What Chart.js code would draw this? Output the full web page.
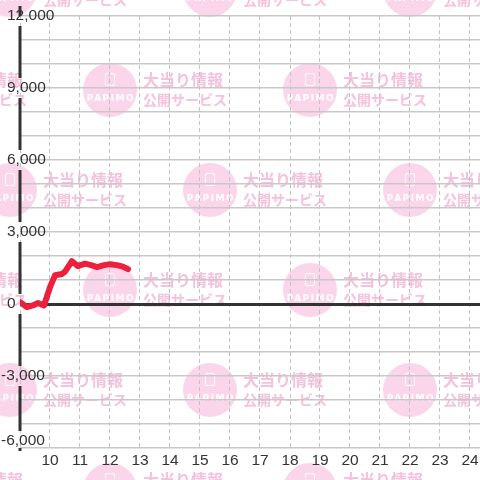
<!DOCTYPE html>
<html>
<head>
<meta charset="utf-8">
<script src="https://cdn.jsdelivr.net/npm/chart.js@4.4.0/dist/chart.umd.min.js"></script>
<style>
  body { margin: 0; background: #fff; }
  #chart { display: block; }
</style>
</head>
<body>
<canvas id="chart" width="480" height="480"></canvas>
<script>
// hours of the day (x) and running balance (y)
let hours = [9.0, 9.23, 9.43, 9.6, 9.8, 10.0, 10.17, 10.4, 10.5, 10.73, 10.93, 11.17, 11.37, 11.57, 11.8, 12.0, 12.23, 12.43, 12.6];
let balance = [80, -125, -60, 40, -60, 700, 1200, 1250, 1350, 1780, 1580, 1680, 1620, 1540, 1620, 1660, 1620, 1560, 1450];

let yLabels = [12000, 9000, 6000, 3000, 0, -3000, -6000];
let xLabels = [10, 11, 12, 13, 14, 15, 16, 17, 18, 19, 20, 21, 22, 23, 24];

let labelFont = "15.5px 'Liberation Sans', Arial, sans-serif";

// pink "PAPIMO" stamps tiled behind the chart
function drawStamp(ctx, cx, cy) {
  ctx.fillStyle = "#fbd6ea";
  ctx.beginPath();
  ctx.arc(cx, cy, 27, 0, Math.PI * 2);
  ctx.fill();

  // little phone icon
  ctx.strokeStyle = "#fff";
  ctx.lineWidth = 1;
  ctx.beginPath();
  ctx.roundRect(cx - 4.5, cy - 16.5, 9, 12, 1.5);
  ctx.stroke();

  ctx.fillStyle = "#fff";
  ctx.font = "bold 9px 'DejaVu Sans', sans-serif";
  ctx.textAlign = "center";
  ctx.textBaseline = "middle";
  ctx.letterSpacing = "1.5px";
  ctx.fillText("PAPIMO", cx + 1, cy + 9);
  ctx.letterSpacing = "0px";

  ctx.fillStyle = "#f4c2dd";
  ctx.textAlign = "left";
  ctx.font = "bold 16px 'Noto Sans CJK JP', sans-serif";
  ctx.fillText("大当り情報", cx + 33, cy - 10);
  ctx.font = "bold 14px 'Noto Sans CJK JP', sans-serif";
  ctx.fillText("公開サービス", cx + 33, cy + 10);
}

const backgroundPlugin = {
  id: "stamps",
  beforeDraw(chart) {
    let ctx = chart.ctx;
    ctx.save();
    ctx.fillStyle = "#fff";
    ctx.fillRect(0, 0, chart.width, chart.height);
    for (let m = 0; m < 6; m++) {
      for (let k = -1; k < 6; k++) {
        if ((k + m) % 2 !== 0) continue;
        drawStamp(ctx, 10 + 100 * k, -10 + 100 * m);
      }
    }
    ctx.restore();
  },
};

// y axis line with gaps for the labels, plus tick labels
const axisPlugin = {
  id: "axisLabels",
  beforeDatasetsDraw(chart) {
    let ctx = chart.ctx;
    let area = chart.chartArea;
    let y = chart.scales.y;
    let x = chart.scales.x;
    ctx.save();

    let labelPos = yLabels.map((v) => Math.min(y.getPixelForValue(v), area.bottom - 7));
    let stops = [area.top];
    labelPos.forEach((p) => {
      stops.push(p - 10);
      stops.push(p + 10);
    });
    stops.push(area.bottom);
    stops.sort((a, b) => a - b);
    ctx.strokeStyle = "#333";
    ctx.lineWidth = 3;
    ctx.beginPath();
    for (let i = 0; i < stops.length; i += 2) {
      if (stops[i + 1] > stops[i]) {
        ctx.moveTo(area.left, stops[i]);
        ctx.lineTo(area.left, stops[i + 1]);
      }
    }
    ctx.stroke();

    ctx.fillStyle = "#333";
    ctx.font = labelFont;
    ctx.textBaseline = "middle";
    ctx.textAlign = "left";
    yLabels.forEach((v, i) => {
      ctx.fillText(v.toLocaleString("en-US"), v < 0 ? 1 : 7, labelPos[i]);
    });

    ctx.textAlign = "center";
    xLabels.forEach((h) => {
      ctx.fillText(String(h), x.getPixelForValue(h), area.bottom + 13);
    });
    ctx.restore();
  },
};

let ctx = document.getElementById("chart");
const chart = new Chart(ctx, {
  type: "line",
  data: {
    datasets: [
      {
        data: hours.map((h, i) => ({ x: h, y: balance[i] })),
        borderColor: "#ec1f3d",
        borderWidth: 6,
        borderJoinStyle: "round",
        borderCapStyle: "round",
        pointRadius: 0,
        tension: 0,
        fill: false,
      },
    ],
  },
  options: {
    responsive: false,
    animation: false,
    layout: { padding: { left: 20, top: 16, right: 0, bottom: 32 } },
    plugins: { legend: { display: false }, tooltip: { enabled: false } },
    scales: {
      x: {
        type: "linear",
        min: 9,
        max: 9 + 460 / 30,
        ticks: { display: false, stepSize: 1, includeBounds: false },
        grid: { color: "#c4c4c4", lineWidth: 1, drawTicks: false },
        border: { display: false, dash: [4, 3] },
      },
      y: {
        type: "linear",
        min: -6000,
        max: 12000,
        ticks: { display: false, stepSize: 1000 },
        grid: {
          drawTicks: false,
          color: (c) => (c.tick && c.tick.value === 0 ? "#333" : "#c8c8c8"),
          lineWidth: (c) => (c.tick && c.tick.value === 0 ? 3 : 1.5),
        },
        border: { display: false },
      },
    },
  },
  plugins: [backgroundPlugin, axisPlugin],
});
</script>
</body>
</html>
